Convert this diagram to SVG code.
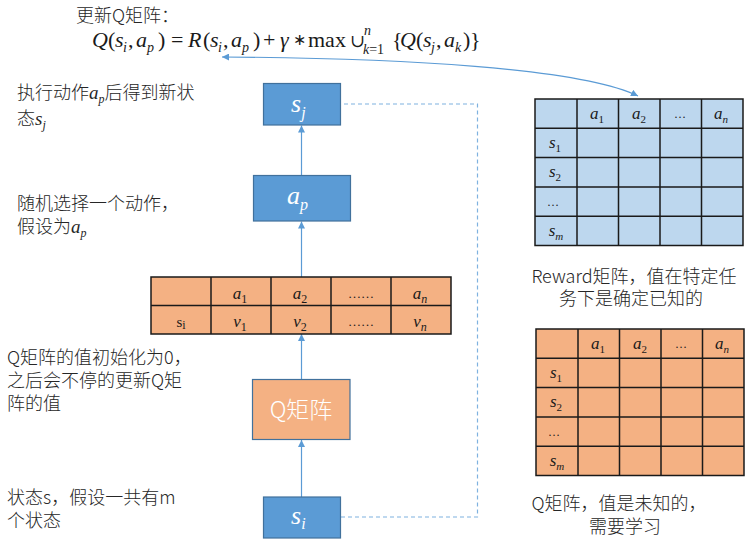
<svg xmlns="http://www.w3.org/2000/svg" width="754" height="548" viewBox="0 0 754 548">
<defs>
<style>
.cjk{font-family:"Noto Sans CJK SC","Noto Sans",sans-serif;font-weight:300;font-size:18px;fill:#262626}
.m{font-family:"Liberation Serif",serif;font-style:italic}
.n{font-style:normal}
.sub{font-size:12px}
.fs{font-size:14px}
.box{fill:#5b9bd5;stroke:#41719c;stroke-width:1.2}
.obox{fill:#f4b183;stroke:#41719c;stroke-width:1.2}
.bl{fill:#fff;font-family:"Liberation Serif",serif;font-style:italic;font-size:26px}
.tbl{stroke:#1a1a1a;stroke-width:1.5;fill:none}
.tt{font-family:"Liberation Serif",serif;font-style:italic;font-size:17px;fill:#1a1a1a}
.conn{stroke:#5b9bd5;stroke-width:1.2;fill:none}
.dash{stroke:#7fb2e0;stroke-width:1.2;fill:none;stroke-dasharray:4 3}
</style>
<marker id="ah" viewBox="0 0 10 10" refX="10" refY="5" markerWidth="7" markerHeight="7" markerUnits="userSpaceOnUse" orient="auto-start-reverse">
<path d="M0,0 L10,5 L0,10 z" fill="#5b9bd5"/>
</marker>
</defs>

<!-- formula -->
<g id="formula">
<text class="cjk" x="76" y="22">更新Q矩阵：</text>
<text font-family="Liberation Serif, serif" font-size="22" fill="#1a1a1a" y="47">
<tspan x="92" class="m">Q</tspan><tspan x="108">(</tspan><tspan x="115" class="m">s</tspan><tspan x="123" y="52" class="m fs">i</tspan><tspan x="128" y="47">,</tspan><tspan x="136" class="m">a</tspan><tspan x="147" y="52" class="m fs">p</tspan><tspan x="158" y="47">)</tspan><tspan x="171">=</tspan><tspan x="188" class="m">R</tspan><tspan x="203">(</tspan><tspan x="210" class="m">s</tspan><tspan x="218" y="52" class="m fs">i</tspan><tspan x="223" y="47">,</tspan><tspan x="231" class="m">a</tspan><tspan x="242" y="52" class="m fs">p</tspan><tspan x="253" y="47">)</tspan><tspan x="263">+</tspan><tspan x="280" class="m">γ</tspan><tspan x="293" font-size="16" y="45">∗</tspan><tspan x="308" y="47">max</tspan><tspan x="350" font-family="DejaVu Serif, serif" font-size="18">∪</tspan><tspan x="364" y="35" class="m fs">n</tspan><tspan x="363" y="54" class="fs"><tspan class="m">k</tspan>=1</tspan><tspan x="392" y="47">{</tspan><tspan x="400" class="m">Q</tspan><tspan x="416">(</tspan><tspan x="423" class="m">s</tspan><tspan x="431" y="52" class="m fs">j</tspan><tspan x="436" y="47">,</tspan><tspan x="444" class="m">a</tspan><tspan x="455" y="52" class="m fs">k</tspan><tspan x="463" y="47">)</tspan><tspan x="470">}</tspan>
</text>
</g>

<!-- left labels -->
<g id="label-sj">
<text class="cjk" x="17" y="99">执行动作<tspan class="m" font-size="19">a</tspan><tspan class="m sub" dy="4">p</tspan><tspan dy="-4">后得到新状</tspan></text>
<text class="cjk" x="17" y="125">态<tspan class="m" font-size="19">s</tspan><tspan class="m sub" dy="4">j</tspan></text>
</g>
<g id="label-ap">
<text class="cjk" x="17" y="210">随机选择一个动作，</text>
<text class="cjk" x="17" y="233">假设为<tspan class="m" font-size="19">a</tspan><tspan class="m sub" dy="4">p</tspan></text>
</g>
<g id="label-q">
<text class="cjk" x="7" y="364">Q矩阵的值初始化为0，</text>
<text class="cjk" x="7" y="387">之后会不停的更新Q矩</text>
<text class="cjk" x="7" y="410">阵的值</text>
</g>
<g id="label-si">
<text class="cjk" x="7" y="504">状态s，假设一共有m</text>
<text class="cjk" x="7" y="527">个状态</text>
</g>

<!-- connectors -->
<g id="connectors">
<line class="conn" x1="301.5" y1="497" x2="301.5" y2="440" marker-end="url(#ah)"/>
<line class="conn" x1="301.5" y1="379" x2="301.5" y2="334" marker-end="url(#ah)"/>
<line class="conn" x1="301.5" y1="277" x2="301.5" y2="221.5" marker-end="url(#ah)"/>
<line class="conn" x1="301.5" y1="175" x2="301.5" y2="125.5" stroke="#8fbbe3" marker-end="url(#ah)"/>
<path class="dash" d="M341 517 H477.5 V104 H341"/>
<path class="conn" d="M222 57 C400 58 580 68 638 96" marker-start="url(#ah)" marker-end="url(#ah)"/>
</g>

<!-- nodes -->
<g id="node-sj">
<rect class="box" x="263.5" y="83.5" width="77" height="41.5"/>
<text class="bl" x="291" y="112">s<tspan font-size="16" dy="6">j</tspan></text>
</g>
<g id="node-ap">
<rect class="box" x="253.5" y="175.5" width="97" height="45.5"/>
<text class="bl" x="287" y="204">a<tspan font-size="16" dy="6">p</tspan></text>
</g>
<g id="node-table">
<rect x="151" y="277" width="300" height="57" fill="#f4b183"/>
<path class="tbl" d="M151 277 H451 V334 H151 Z M151 305.5 H451 M211 277 V334 M271 277 V334 M331 277 V334 M391 277 V334"/>
<g class="tt" text-anchor="middle">
<text x="240" y="299">a<tspan class="n" font-size="12" dy="4">1</tspan></text>
<text x="300" y="299">a<tspan class="n" font-size="12" dy="4">2</tspan></text>
<text x="361" y="298" font-style="normal" font-size="13">……</text>
<text x="420" y="299">a<tspan font-size="12" dy="4">n</tspan></text>
<text x="181" y="327" font-style="normal" font-size="15">s<tspan font-size="12" dy="2">i</tspan></text>
<text x="240" y="327">v<tspan class="n" font-size="12" dy="4">1</tspan></text>
<text x="300" y="327">v<tspan class="n" font-size="12" dy="4">2</tspan></text>
<text x="361" y="326" font-style="normal" font-size="13">……</text>
<text x="420" y="327">v<tspan font-size="12" dy="4">n</tspan></text>
</g>
</g>
<g id="node-q">
<rect class="obox" x="252.5" y="379.5" width="97.5" height="60"/>
<text x="301" y="418" text-anchor="middle" font-family="Noto Sans CJK SC, Noto Sans, sans-serif" font-weight="300" font-size="23" fill="#fff">Q矩阵</text>
</g>
<g id="node-si">
<rect class="box" x="263.5" y="497" width="77" height="41"/>
<text class="bl" x="291" y="524">s<tspan font-size="16" dy="5">i</tspan></text>
</g>

<!-- reward matrix -->
<g id="reward-matrix">
<rect x="535" y="99" width="208" height="146.5" fill="#bdd7ee"/>
<path class="tbl" d="M535 99 H743 V245.5 H535 Z M535 128.3 H743 M535 157.6 H743 M535 186.9 H743 M535 216.2 H743 M577 99 V245.5 M618.5 99 V245.5 M660 99 V245.5 M701.5 99 V245.5"/>
<g class="tt" text-anchor="middle" font-size="16">
<text x="597" y="119">a<tspan class="n" font-size="11" dy="4">1</tspan></text>
<text x="639" y="119">a<tspan class="n" font-size="11" dy="4">2</tspan></text>
<text x="680" y="118" font-style="normal" font-size="12">…</text>
<text x="721" y="119">a<tspan font-size="11" dy="4">n</tspan></text>
<text x="555" y="148">s<tspan class="n" font-size="11" dy="4">1</tspan></text>
<text x="555" y="177">s<tspan class="n" font-size="11" dy="4">2</tspan></text>
<text x="553" y="206" font-style="normal" font-size="12">…</text>
<text x="556" y="236">s<tspan font-size="11" dy="4">m</tspan></text>
</g>
</g>
<g id="reward-label">
<text class="cjk" x="634" y="283" text-anchor="middle">Reward矩阵，值在特定任</text>
<text class="cjk" x="631" y="305" text-anchor="middle">务下是确定已知的</text>
</g>

<!-- Q matrix -->
<g id="q-matrix">
<rect x="536" y="329" width="208" height="146.5" fill="#f4b183"/>
<path class="tbl" d="M536 329 H744 V475.5 H536 Z M536 358.3 H744 M536 387.6 H744 M536 416.9 H744 M536 446.2 H744 M578 329 V475.5 M619.5 329 V475.5 M661 329 V475.5 M702.5 329 V475.5"/>
<g class="tt" text-anchor="middle" font-size="16">
<text x="598" y="349">a<tspan class="n" font-size="11" dy="4">1</tspan></text>
<text x="640" y="349">a<tspan class="n" font-size="11" dy="4">2</tspan></text>
<text x="681" y="348" font-style="normal" font-size="12">…</text>
<text x="722" y="349">a<tspan font-size="11" dy="4">n</tspan></text>
<text x="556" y="378">s<tspan class="n" font-size="11" dy="4">1</tspan></text>
<text x="556" y="407">s<tspan class="n" font-size="11" dy="4">2</tspan></text>
<text x="554" y="436" font-style="normal" font-size="12">…</text>
<text x="557" y="466">s<tspan font-size="11" dy="4">m</tspan></text>
</g>
</g>
<g id="q-label">
<text class="cjk" x="619" y="510" text-anchor="middle">Q矩阵，值是未知的，</text>
<text class="cjk" x="625" y="533" text-anchor="middle">需要学习</text>
</g>
</svg>
